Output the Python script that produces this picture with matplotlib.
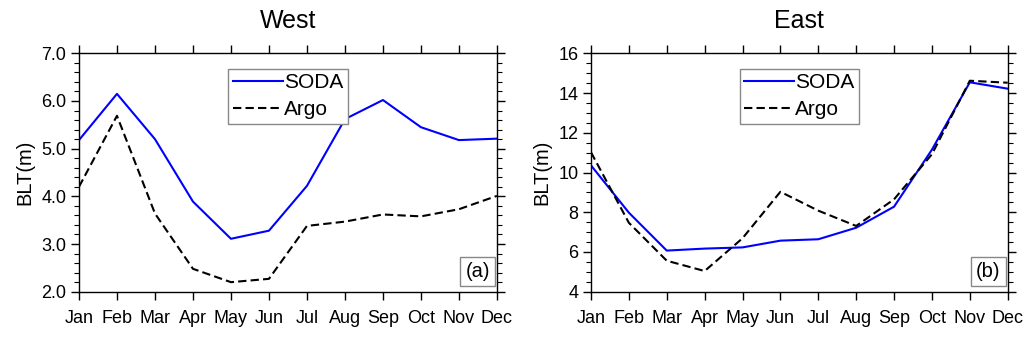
import matplotlib
matplotlib.use("Agg")
import matplotlib.pyplot as plt
from matplotlib.ticker import MultipleLocator

plt.rcParams["font.family"] = ["Liberation Sans", "DejaVu Sans"]

months = ["Jan", "Feb", "Mar", "Apr", "May", "Jun",
          "Jul", "Aug", "Sep", "Oct", "Nov", "Dec"]

west_soda = [5.18, 6.15, 5.20, 3.89, 3.11, 3.28, 4.22, 5.62, 6.02, 5.45, 5.18, 5.21]
west_argo = [4.20, 5.69, 3.64, 2.48, 2.20, 2.27, 3.38, 3.47, 3.62, 3.58, 3.73, 4.01]

east_soda = [10.36, 7.98, 6.07, 6.17, 6.23, 6.57, 6.64, 7.22, 8.28, 11.15, 14.54, 14.22]
east_argo = [11.02, 7.47, 5.56, 5.04, 6.69, 9.03, 8.08, 7.31, 8.65, 10.92, 14.62, 14.52]

BLUE = "#0000ff"

fig = plt.figure(figsize=(10.31, 3.37), dpi=100)
fig.patch.set_facecolor("white")


def panel(rect, soda, argo, title, tag, ylim, major, minor, fmt):
    ax = fig.add_axes(rect)
    x = list(range(len(months)))
    ax.plot(x, soda, color=BLUE, lw=1.5, label="SODA")
    ax.plot(x, argo, color="black", lw=1.5, dashes=(4, 2), label="Argo")
    ax.set_xlim(0, 11)
    ax.set_ylim(*ylim)
    ax.set_xticks(x)
    ax.set_xticklabels(months)
    ax.yaxis.set_major_locator(MultipleLocator(major))
    ax.yaxis.set_minor_locator(MultipleLocator(minor))
    ax.yaxis.set_major_formatter(fmt)
    ax.tick_params(which="major", direction="out", length=6, width=1,
                   labelsize=13, top=True, right=True, pad=3)
    ax.tick_params(which="minor", direction="out", length=3.5, width=0.8,
                   left=True, right=True)
    ax.tick_params(axis="x", pad=7)
    for s in ax.spines.values():
        s.set_linewidth(1)
    ax.set_ylabel("BLT(m)", fontsize=14.5, labelpad=5)
    ax.set_title(title, fontsize=18, pad=18)
    leg = ax.legend(loc="upper center", bbox_to_anchor=(0.50, 0.935),
                    fontsize=15, handlelength=2.4, handletextpad=0.05,
                    borderpad=0.22, labelspacing=0.38, borderaxespad=0,
                    fancybox=False, framealpha=1)
    leg.get_frame().set_edgecolor("#888888")
    leg.get_frame().set_linewidth(1)
    ax.text(0.9535, 0.086, tag, transform=ax.transAxes, ha="center", va="center",
            fontsize=14.5,
            bbox=dict(boxstyle="square,pad=0.25", fc="white", ec="#888888", lw=1))
    return ax


panel([0.0766, 0.1344, 0.4054, 0.7074], west_soda, west_argo, "West", "(a)",
      (2.0, 7.0), 1.0, 0.2, "{x:.1f}")
panel([0.5732, 0.1344, 0.4042, 0.7074], east_soda, east_argo, "East", "(b)",
      (4, 16), 2, 0.5, "{x:.0f}")

fig.savefig("out.png", dpi=100, facecolor="white")
